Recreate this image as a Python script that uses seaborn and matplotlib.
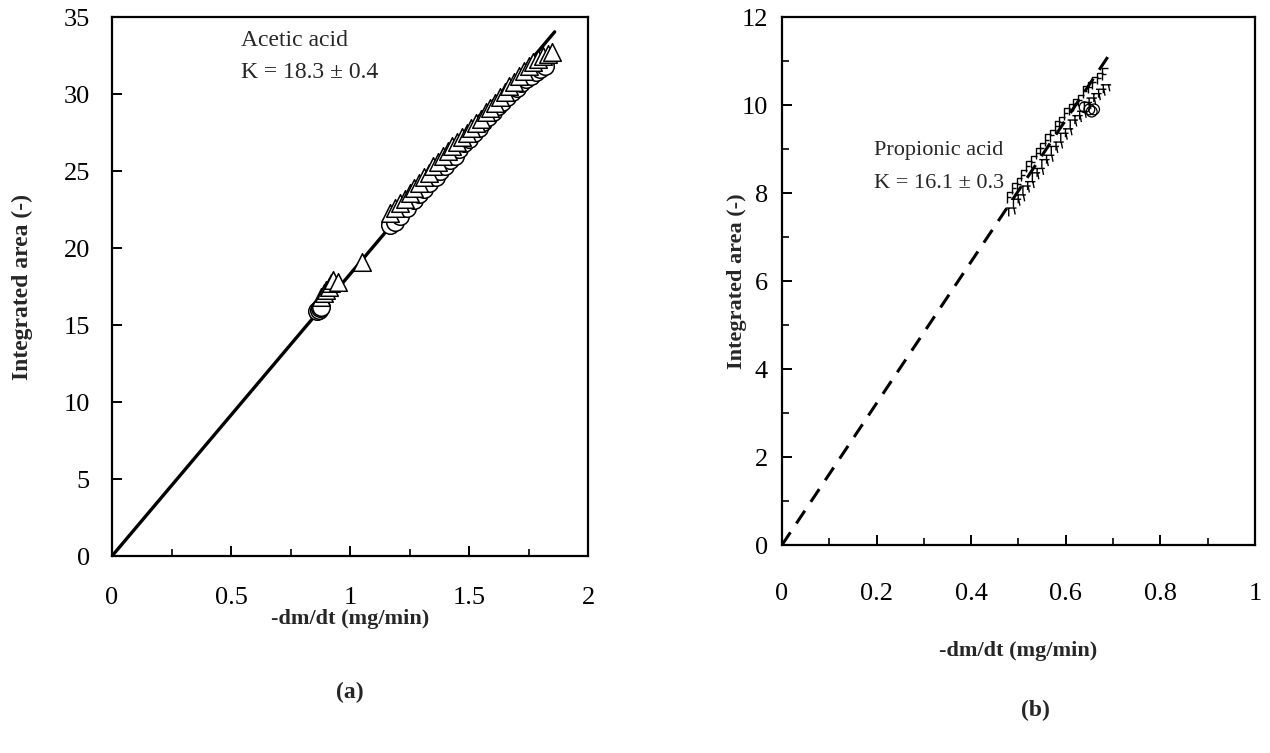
import numpy as np
import pandas as pd
import matplotlib
matplotlib.use("Agg")
import matplotlib.pyplot as plt
from matplotlib.path import Path
from matplotlib.ticker import MultipleLocator, FuncFormatter
import seaborn as sns

sns.set_theme(style="ticks")
plt.rcParams["font.family"] = ["Liberation Serif", "DejaVu Serif"]

# ---- Acetic acid (a) ----
acetic_K = 18.3
acetic_err = 0.4
acetic_run1_x = [0.86, 0.87, 0.875, 0.88, 1.17, 1.19, 1.21, 1.24, 1.27, 1.29, 1.31, 1.33,
                 1.36, 1.38, 1.40, 1.42, 1.44, 1.46, 1.48, 1.50, 1.52, 1.54, 1.56, 1.58,
                 1.60, 1.62, 1.64, 1.66, 1.68, 1.70, 1.72, 1.74, 1.76, 1.78, 1.80, 1.82]
acetic_run1_y = [15.9, 16.0, 16.1, 16.2, 21.5, 21.7, 22.1, 22.6, 23.1, 23.5, 23.8, 24.2,
                 24.6, 25.0, 25.3, 25.7, 26.0, 26.4, 26.8, 27.1, 27.5, 27.8, 28.2, 28.5,
                 28.8, 29.2, 29.5, 29.8, 30.1, 30.4, 30.7, 31.0, 31.2, 31.4, 31.6, 31.8]
acetic_run2_x = [0.88, 0.89, 0.90, 0.91, 0.92, 0.93, 0.95, 1.05, 1.17, 1.19, 1.21, 1.23,
                 1.25, 1.27, 1.29, 1.31, 1.33, 1.35, 1.37, 1.39, 1.41, 1.43, 1.45, 1.47,
                 1.49, 1.51, 1.53, 1.55, 1.57, 1.59, 1.61, 1.63, 1.65, 1.67, 1.69, 1.71,
                 1.73, 1.75, 1.77, 1.79, 1.81, 1.83, 1.85]
acetic_run2_y = [16.8, 17.1, 17.3, 17.5, 17.7, 17.9, 17.8, 19.1, 22.3, 22.6, 22.9, 23.2,
                 23.6, 23.9, 24.2, 24.6, 24.9, 25.3, 25.6, 26.0, 26.3, 26.6, 26.9, 27.2,
                 27.5, 27.8, 28.1, 28.4, 28.8, 29.1, 29.4, 29.8, 30.1, 30.5, 30.8, 31.2,
                 31.5, 31.8, 32.1, 32.3, 32.5, 32.6, 32.7]
acetic_fit_x = [0.0, 1.86]

# ---- Propionic acid (b) ----
propionic_K = 16.1
propionic_err = 0.3
propionic_run1_x = [0.48, 0.49, 0.50, 0.51, 0.52, 0.53, 0.54, 0.55, 0.56, 0.57, 0.58,
                    0.59, 0.60, 0.61, 0.62, 0.63, 0.64, 0.65, 0.66, 0.67, 0.68]
propionic_run1_y = [7.9, 8.1, 8.2, 8.4, 8.6, 8.7, 8.9, 9.0, 9.2, 9.3, 9.5,
                    9.6, 9.8, 9.9, 10.0, 10.1, 10.3, 10.4, 10.5, 10.6, 10.7]
propionic_run2_x = [0.485, 0.495, 0.505, 0.515, 0.525, 0.535, 0.545, 0.555, 0.565, 0.575,
                    0.585, 0.595, 0.605, 0.615, 0.625, 0.635, 0.645, 0.655, 0.665, 0.675, 0.685]
propionic_run2_y = [7.6, 7.8, 7.9, 8.1, 8.2, 8.4, 8.5, 8.7, 8.8, 9.0,
                    9.1, 9.3, 9.4, 9.6, 9.7, 9.8, 10.0, 10.1, 10.2, 10.3, 10.4]
propionic_run3_x = [0.64, 0.65, 0.655, 0.66]
propionic_run3_y = [9.95, 9.9, 9.85, 9.9]
propionic_fit_x = [0.0, 0.69]

# open stroke markers for the propionic runs
f_marker = Path([(-0.3, -1), (-0.3, 1), (0.7, 1), (-0.3, 0.1), (0.4, 0.1)],
                [Path.MOVETO, Path.LINETO, Path.LINETO, Path.MOVETO, Path.LINETO])
t_marker = Path([(-0.8, 0.4), (0.8, 0.4), (-0.4, 0.4), (-0.4, -0.9), (0.4, 0.4), (0.6, -0.6)],
                [Path.MOVETO, Path.LINETO, Path.MOVETO, Path.LINETO, Path.MOVETO, Path.LINETO])

fmt = FuncFormatter(lambda v, p: f"{v:g}")

fig = plt.figure(figsize=(12.7, 7.53), dpi=100)
ax_a = fig.add_axes([0.0882, 0.2616, 0.3748, 0.7158])
ax_b = fig.add_axes([0.6157, 0.2762, 0.3724, 0.7012])

# panel (a)
fit_a = pd.DataFrame({"x": acetic_fit_x, "y": [acetic_K * v for v in acetic_fit_x]})
sns.lineplot(data=fit_a, x="x", y="y", ax=ax_a, color="black", lw=2.4, zorder=2)
sns.scatterplot(x=acetic_run1_x, y=acetic_run1_y, ax=ax_a, marker="o", s=160,
                facecolor="white", edgecolor="black", linewidth=1.1, zorder=3)
sns.scatterplot(x=acetic_run2_x, y=acetic_run2_y, ax=ax_a, marker="^", s=160,
                facecolor="white", edgecolor="black", linewidth=1.1, zorder=4)
ax_a.set_xlim(0, 2)
ax_a.set_ylim(0, 35)
ax_a.xaxis.set_major_locator(MultipleLocator(0.5))
ax_a.xaxis.set_minor_locator(MultipleLocator(0.25))
ax_a.yaxis.set_major_locator(MultipleLocator(5))
ax_a.xaxis.set_major_formatter(fmt)
ax_a.yaxis.set_major_formatter(fmt)
ax_a.text(0.54, 33.5, "Acetic acid", fontsize=17, va="center", ha="left")
ax_a.text(0.54, 31.4, f"K = {acetic_K} \u00b1 {acetic_err}", fontsize=17, va="center", ha="left")
ax_a.set_xlabel("-dm/dt (mg/min)", fontsize=16, fontweight="bold", labelpad=0)
ax_a.set_ylabel("Integrated area (-)", fontsize=17, fontweight="bold", labelpad=22)

# panel (b)
fit_b = pd.DataFrame({"x": propionic_fit_x, "y": [propionic_K * v for v in propionic_fit_x]})
sns.lineplot(data=fit_b, x="x", y="y", ax=ax_b, color="black", lw=2.2, zorder=2)
ax_b.lines[-1].set_dashes([5, 3.5])
sns.scatterplot(x=propionic_run1_x, y=propionic_run1_y, ax=ax_b, marker=f_marker, s=70,
                facecolor="none", edgecolor="black", linewidth=1.0, zorder=3)
sns.scatterplot(x=propionic_run2_x, y=propionic_run2_y, ax=ax_b, marker=t_marker, s=70,
                facecolor="none", edgecolor="black", linewidth=1.0, zorder=3)
sns.scatterplot(x=propionic_run3_x, y=propionic_run3_y, ax=ax_b, marker="o", s=60,
                facecolor="none", edgecolor="black", linewidth=0.9, zorder=3)
ax_b.set_xlim(0, 1)
ax_b.set_ylim(0, 12)
ax_b.xaxis.set_major_locator(MultipleLocator(0.2))
ax_b.xaxis.set_minor_locator(MultipleLocator(0.1))
ax_b.yaxis.set_major_locator(MultipleLocator(2))
ax_b.yaxis.set_minor_locator(MultipleLocator(1))
ax_b.xaxis.set_major_formatter(fmt)
ax_b.yaxis.set_major_formatter(fmt)
ax_b.text(0.195, 8.96, "Propionic acid", fontsize=16, va="center", ha="left")
ax_b.text(0.195, 8.21, f"K = {propionic_K} \u00b1 {propionic_err}", fontsize=16, va="center", ha="left")
ax_b.set_xlabel("-dm/dt (mg/min)", fontsize=16, fontweight="bold", labelpad=26)
ax_b.set_ylabel("Integrated area (-)", fontsize=16, fontweight="bold", labelpad=-4)

for ax, xpad, ypad in ((ax_a, 22, 16), (ax_b, 27, 10)):
    for side in ("top", "right", "bottom", "left"):
        ax.spines[side].set_visible(True)
        ax.spines[side].set_linewidth(1.6)
        ax.spines[side].set_color("black")
    ax.tick_params(axis="both", which="both", direction="in", color="black",
                   labelsize=19, labelcolor="black")
    ax.tick_params(axis="both", which="major", length=7, width=1.4)
    ax.tick_params(axis="both", which="minor", length=5, width=1.2)
    ax.tick_params(axis="x", which="major", pad=xpad)
    ax.tick_params(axis="y", which="major", pad=ypad)
    ax.grid(False)

fig.text(0.2756, 0.08, "(a)", fontsize=17, fontweight="bold", ha="center", va="center")
fig.text(0.815, 0.057, "(b)", fontsize=17, fontweight="bold", ha="center", va="center")

fig.savefig("out.png", dpi=100, facecolor="white")
